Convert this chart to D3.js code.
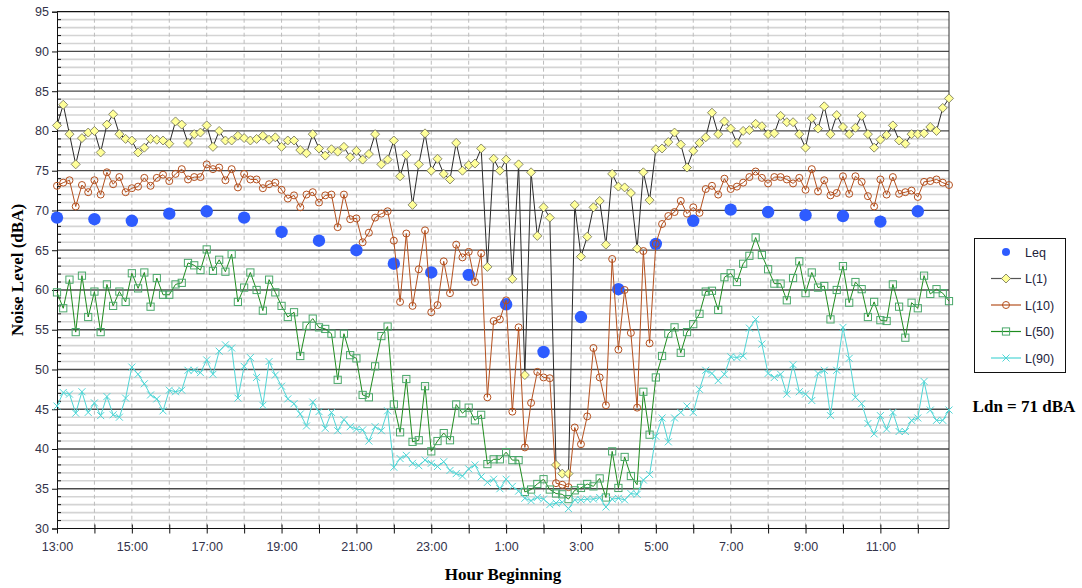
<!DOCTYPE html>
<html>
<head>
<meta charset="utf-8">
<script src="https://cdn.jsdelivr.net/npm/d3@7"></script>
<style>
  body { margin: 0; background: #fff; }
  svg { display: block; }
</style>
</head>
<body>
<div id="chart"></div>
<script>
// hour labels for every other hour tick (13:00 start)
const tickLabels = ["13:00", "15:00", "17:00", "19:00", "21:00", "23:00", "1:00", "3:00", "5:00", "7:00", "9:00", "11:00"];

// hourly Leq
const leq = [69.1, 68.9, 68.7, 69.6, 69.9, 69.1, 67.3, 66.2, 65.0, 63.3, 62.2, 61.9,
  58.2, 52.2, 56.6, 60.1, 65.8, 68.7, 70.1, 69.8, 69.4, 69.3, 68.6, 69.9];

// 10-minute statistics, 13:00 -> 12:50
const l1 = [80.7, 83.3, 79.6, 75.8, 79.1, 79.8, 80.0, 77.3, 80.8, 82.1, 79.6, 79.0, 78.8, 77.3, 77.9, 79.0, 78.9, 78.8, 78.4, 81.2, 80.8, 78.5, 79.6,
  79.8, 80.7, 78.0, 80.0, 78.8, 78.8, 79.4, 79.1, 78.8, 79.0, 79.4, 78.9, 79.2, 78.0, 78.8, 78.8, 77.6, 77.2, 79.6, 77.8, 76.9, 77.7, 77.4, 78.0,
  76.7, 77.5, 76.4, 77.1, 79.6, 75.8, 76.4, 78.8, 74.3, 77.0, 70.7, 75.8, 79.7, 75.0, 76.5, 74.6, 73.9, 78.5, 75.0, 75.7, 75.9, 77.8, 62.9, 76.5,
  75.0, 76.4, 61.4, 75.8, 49.3, 74.8, 66.8, 70.4, 69.1, 38.0, 36.9, 36.9, 70.7, 64.2, 66.7, 70.4, 71.2, 65.7, 74.6, 73.0, 72.9, 72.2, 65.2, 74.8,
  71.3, 77.7, 77.8, 78.6, 79.8, 78.3, 75.4, 77.5, 78.5, 79.2, 82.3, 79.6, 81.2, 80.3, 78.5, 80.0, 80.1, 80.9, 80.6, 79.6, 79.7, 81.9, 81.1, 81.1,
  79.6, 77.9, 81.6, 80.3, 83.1, 79.6, 82.0, 80.5, 79.6, 80.4, 81.9, 79.6, 77.9, 78.9, 79.5, 80.7, 78.8, 78.4, 79.6, 79.6, 79.7, 80.5, 80.0, 82.9, 84.1];

const l10 = [73.1, 73.5, 73.8, 70.5, 73.2, 72.3, 73.8, 72.0, 74.8, 73.3, 74.2, 72.3, 72.8, 73.0, 74.1, 73.1, 74.1, 74.5, 73.7, 74.6, 75.2, 73.9, 74.2,
  74.2, 75.8, 75.2, 75.4, 73.8, 75.2, 72.9, 74.6, 73.9, 73.9, 72.8, 73.3, 73.5, 72.6, 71.5, 71.9, 70.4, 72.0, 72.3, 71.0, 71.9, 72.0, 67.9, 72.0,
  68.9, 69.0, 66.0, 67.2, 69.1, 69.6, 69.9, 66.2, 58.5, 67.1, 58.0, 62.6, 67.5, 57.2, 58.1, 63.6, 59.6, 65.7, 64.1, 64.8, 61.0, 64.6, 46.5, 56.1,
  56.3, 58.7, 44.7, 55.3, 40.2, 45.8, 49.7, 49.0, 48.9, 35.7, 35.5, 35.2, 42.7, 40.6, 44.1, 52.7, 49.0, 45.5, 63.9, 52.5, 60.0, 54.6, 45.2, 64.9,
  53.3, 65.8, 68.3, 69.3, 69.8, 71.2, 69.6, 70.4, 69.7, 72.7, 73.1, 72.0, 74.0, 72.7, 73.0, 73.5, 74.2, 74.9, 74.1, 73.4, 74.2, 74.2, 73.9, 73.4,
  74.1, 72.6, 75.2, 72.4, 73.8, 71.9, 72.2, 74.3, 72.1, 74.3, 73.6, 71.8, 70.5, 73.9, 72.0, 74.2, 72.1, 72.3, 72.5, 71.7, 73.6, 73.7, 73.9, 73.5, 73.2];

const l50 = [59.7, 57.7, 61.3, 54.7, 61.8, 56.6, 59.8, 54.7, 60.7, 58.0, 59.8, 58.5, 62.1, 60.2, 62.2, 57.9, 61.5, 59.4, 59.4, 60.7, 60.9, 63.4, 63.1,
  62.5, 65.1, 62.4, 63.8, 62.3, 64.5, 58.5, 60.3, 62.2, 60.0, 57.4, 61.3, 59.7, 58.0, 56.6, 57.2, 51.7, 55.5, 56.4, 55.3, 55.1, 54.5, 48.7, 54.5,
  51.8, 51.4, 46.8, 46.5, 50.4, 54.2, 55.4, 45.6, 42.1, 48.8, 40.9, 41.1, 47.9, 39.7, 41.0, 42.0, 41.1, 45.6, 44.5, 45.2, 43.6, 44.3, 38.1, 38.7,
  38.7, 39.6, 38.6, 38.6, 34.6, 34.9, 35.6, 36.2, 34.9, 34.4, 34.3, 33.7, 34.8, 35.1, 35.6, 35.3, 36.3, 33.9, 39.7, 35.1, 39.0, 36.6, 35.5, 47.2,
  41.8, 49.0, 51.7, 54.5, 55.3, 52.1, 54.7, 55.7, 57.0, 59.8, 59.9, 57.5, 61.6, 62.1, 61.0, 63.3, 64.3, 66.6, 64.4, 62.6, 60.8, 60.8, 58.7, 61.5,
  63.6, 59.6, 62.2, 60.3, 60.5, 56.3, 60.0, 63.0, 58.4, 61.0, 60.1, 56.6, 58.5, 56.2, 56.1, 60.7, 57.9, 54.0, 58.4, 57.7, 61.8, 59.5, 60.1, 59.6, 58.6];

const l90 = [45.4, 47.1, 46.9, 44.5, 47.2, 44.6, 45.8, 44.2, 46.6, 44.3, 44.0, 46.4, 50.3, 49.4, 48.2, 46.8, 46.3, 44.8, 47.4, 47.2, 47.4, 49.9, 49.9,
  49.6, 51.2, 49.4, 52.3, 53.1, 52.7, 46.4, 50.4, 51.5, 49.0, 45.5, 51.0, 49.3, 47.9, 46.3, 45.7, 44.4, 42.9, 45.9, 44.7, 42.6, 44.6, 42.3, 43.7,
  42.8, 42.5, 42.4, 41.0, 42.8, 42.3, 44.8, 37.7, 38.8, 39.2, 38.2, 37.9, 38.6, 38.2, 37.8, 38.4, 37.3, 36.9, 36.6, 37.5, 38.0, 36.5, 35.8, 36.2,
  35.0, 36.2, 35.3, 34.7, 33.8, 33.5, 33.9, 33.7, 33.0, 33.2, 33.3, 32.5, 33.6, 33.6, 33.7, 33.7, 33.9, 32.7, 33.7, 33.8, 33.6, 34.4, 34.3, 36.1,
  36.8, 41.6, 43.9, 40.9, 43.9, 44.6, 45.4, 44.6, 47.5, 49.9, 49.5, 48.6, 49.4, 51.6, 51.5, 51.7, 55.2, 56.3, 53.2, 49.5, 49.0, 49.4, 46.9, 50.6,
  47.2, 46.9, 46.1, 49.5, 49.9, 44.2, 49.9, 55.3, 51.4, 46.5, 45.7, 43.2, 41.9, 44.2, 42.5, 44.6, 42.2, 42.2, 43.6, 43.9, 48.5, 44.9, 43.6, 43.6, 44.9];

const width = 1082;
const height = 588;
const plot = { left: 57, right: 949, top: 11.7, bottom: 528.5 };

const svg = d3.select("#chart")
  .append("svg")
  .attr("width", width)
  .attr("height", height);

const xScale = d3.scaleLinear()
  .domain([0, (l1.length - 1) / 6])
  .range([plot.left, plot.right]);
const yScale = d3.scaleLinear()
  .domain([30, 95])
  .range([plot.bottom, plot.top]);

const hours = d3.range(0, 24);

// minor horizontal grid
svg.append("g")
  .selectAll("line")
  .data(d3.range(31, 95).filter(v => v % 5 !== 0))
  .join("line")
  .attr("x1", plot.left).attr("x2", plot.right)
  .attr("y1", d => yScale(d)).attr("y2", d => yScale(d))
  .attr("stroke", "#d4d4d4")
  .attr("stroke-width", 1.6);

// vertical dashed hour lines
svg.append("g")
  .selectAll("line")
  .data(hours.slice(1))
  .join("line")
  .attr("x1", d => xScale(d)).attr("x2", d => xScale(d))
  .attr("y1", plot.top).attr("y2", plot.bottom)
  .attr("stroke", "#bdbdbd")
  .attr("stroke-dasharray", "4,3");

// major grid
svg.append("g")
  .selectAll("line")
  .data(d3.range(35, 96, 5))
  .join("line")
  .attr("x1", plot.left).attr("x2", plot.right)
  .attr("y1", d => yScale(d)).attr("y2", d => yScale(d))
  .attr("stroke", d => d === 95 ? "#111" : "#4a4a4a")
  .attr("stroke-width", 1.3);

// right frame
svg.append("line")
  .attr("x1", plot.right).attr("x2", plot.right)
  .attr("y1", plot.top).attr("y2", plot.bottom)
  .attr("stroke", "#333");

// y axis
const yAxis = d3.axisLeft(yScale)
  .tickValues(d3.range(30, 96, 5))
  .tickSize(5)
  .tickPadding(3);
const yAxisGroup = svg.append("g")
  .attr("transform", `translate(${plot.left},0)`)
  .call(yAxis);
yAxisGroup.select(".domain").attr("stroke", "#111");
yAxisGroup.selectAll(".tick line").attr("stroke", "#111");
yAxisGroup.selectAll("text")
  .attr("font-family", "Liberation Sans, Arial, sans-serif")
  .attr("font-size", 12.5)
  .attr("fill", "#33334a");
// inner minor ticks
svg.append("g")
  .selectAll("line")
  .data(d3.range(31, 95).filter(v => v % 5 !== 0))
  .join("line")
  .attr("x1", plot.left).attr("x2", plot.left + 4)
  .attr("y1", d => yScale(d)).attr("y2", d => yScale(d))
  .attr("stroke", "#111");

// x axis
const xAxis = d3.axisBottom(xScale)
  .tickValues(hours)
  .tickSize(5)
  .tickPadding(9)
  .tickFormat(d => d % 2 === 0 ? tickLabels[d / 2] : "");
const xAxisGroup = svg.append("g")
  .attr("transform", `translate(0,${plot.bottom})`)
  .call(xAxis);
xAxisGroup.select(".domain").attr("stroke", "#111").attr("d", `M${plot.left},0H${plot.right}`);
xAxisGroup.selectAll(".tick line").attr("stroke", "#111").attr("y1", -4);
xAxisGroup.selectAll("text")
  .attr("font-family", "Liberation Sans, Arial, sans-serif")
  .attr("font-size", 12.5)
  .attr("fill", "#33334a");

// titles
svg.append("text")
  .attr("x", 503).attr("y", 580)
  .attr("text-anchor", "middle")
  .attr("font-family", "Liberation Serif, Times New Roman, serif")
  .attr("font-weight", "bold")
  .attr("font-size", 17)
  .text("Hour Beginning");
svg.append("text")
  .attr("transform", "translate(23,270) rotate(-90)")
  .attr("text-anchor", "middle")
  .attr("font-family", "Liberation Serif, Times New Roman, serif")
  .attr("font-weight", "bold")
  .attr("font-size", 17)
  .text("Noise Level (dBA)");

// series
const tx = i => xScale(i / 6);
const series = [
  { name: "L(1)", values: l1, line: "#2a2a2a", marker: "diamond", stroke: "#6d6d55", fill: "#ffff99" },
  { name: "L(10)", values: l10, line: "#b4501e", marker: "circle", stroke: "#b4501e", fill: "none" },
  { name: "L(50)", values: l50, line: "#1e8c1e", marker: "square", stroke: "#4aa86a", fill: "none" },
  { name: "L(90)", values: l90, line: "#4fd6d6", marker: "x", stroke: "#4fd6d6", fill: "none" }
];

function drawMarker(g, type, s) {
  if (type === "diamond") {
    g.append("path").attr("d", "M0,-4.5L4.5,0L0,4.5L-4.5,0Z")
      .attr("fill", s.fill).attr("stroke", s.stroke).attr("stroke-width", 0.8);
  } else if (type === "circle") {
    g.append("circle").attr("r", 3.5)
      .attr("fill", "none").attr("stroke", s.stroke).attr("stroke-width", 1);
  } else if (type === "square") {
    g.append("rect").attr("x", -3.6).attr("y", -3.6).attr("width", 7.2).attr("height", 7.2)
      .attr("fill", "none").attr("stroke", s.stroke).attr("stroke-width", 1);
  } else {
    g.append("path").attr("d", "M-3.5,-3.5L3.5,3.5M-3.5,3.5L3.5,-3.5")
      .attr("stroke", s.stroke).attr("stroke-width", 1);
  }
}

// Leq first (sits under the others)
svg.append("g")
  .selectAll("circle")
  .data(leq)
  .join("circle")
  .attr("cx", (d, i) => xScale(i))
  .attr("cy", d => yScale(d))
  .attr("r", 6.2)
  .attr("fill", "#2e5cff");

const line = d3.line()
  .x((d, i) => tx(i))
  .y(d => yScale(d));

series.forEach(s => {
  const g = svg.append("g");
  g.append("path")
    .datum(s.values)
    .attr("d", line)
    .attr("fill", "none")
    .attr("stroke", s.line)
    .attr("stroke-width", 1);
  s.values.forEach((v, i) => {
    const m = g.append("g").attr("transform", `translate(${tx(i)},${yScale(v)})`);
    drawMarker(m, s.marker, s);
  });
});

// legend
const legend = svg.append("g");
legend.append("rect")
  .attr("x", 974.5).attr("y", 238.5)
  .attr("width", 91).attr("height", 134)
  .attr("fill", "#fff").attr("stroke", "#111");
const legendItems = ["Leq"].concat(series.map(s => s.name));
legendItems.forEach((name, k) => {
  const y = 252 + k * 26.5;
  const g = legend.append("g");
  if (k === 0) {
    g.append("circle").attr("cx", 1006).attr("cy", y).attr("r", 4).attr("fill", "#2e5cff");
  } else {
    const s = series[k - 1];
    g.append("line").attr("x1", 991).attr("x2", 1021).attr("y1", y).attr("y2", y)
      .attr("stroke", s.line === "#2a2a2a" ? "#555" : s.line).attr("stroke-width", 1.2);
    const m = g.append("g").attr("transform", `translate(1006,${y})`);
    drawMarker(m, s.marker, s);
  }
  g.append("text")
    .attr("x", 1025).attr("y", y + 4.5)
    .attr("font-family", "Liberation Sans, Arial, sans-serif")
    .attr("font-size", 12.5)
    .attr("fill", "#22223a")
    .text(name);
});

svg.append("text")
  .attr("x", 1024).attr("y", 412)
  .attr("text-anchor", "middle")
  .attr("font-family", "Liberation Serif, Times New Roman, serif")
  .attr("font-weight", "bold")
  .attr("font-size", 17)
  .text("Ldn = 71 dBA");
</script>
</body>
</html>
